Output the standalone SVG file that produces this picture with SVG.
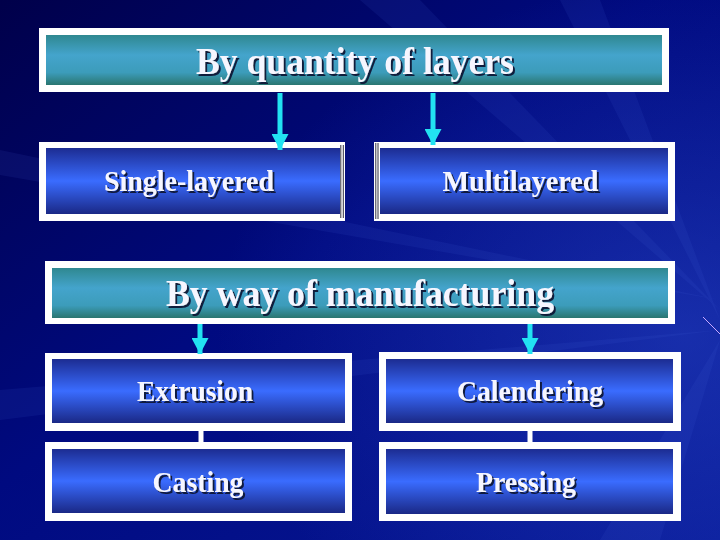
<svg xmlns="http://www.w3.org/2000/svg" width="720" height="540" viewBox="0 0 720 540">
  <defs>
    <linearGradient id="bg" x1="0" y1="0" x2="1" y2="1">
      <stop offset="0" stop-color="#00004a"/>
      <stop offset="0.45" stop-color="#000a80"/>
      <stop offset="1" stop-color="#081a98"/>
    </linearGradient>
    <radialGradient id="glow" cx="0.95" cy="0.62" r="0.65">
      <stop offset="0" stop-color="#2a48c8" stop-opacity="0.5"/>
      <stop offset="1" stop-color="#2a48c8" stop-opacity="0"/>
    </radialGradient>
    <linearGradient id="teal" x1="0" y1="0" x2="0" y2="1">
      <stop offset="0" stop-color="#2f8890"/>
      <stop offset="0.4" stop-color="#44a4cc"/>
      <stop offset="0.75" stop-color="#3c9cba"/>
      <stop offset="1" stop-color="#2a7670"/>
    </linearGradient>
    <linearGradient id="blue" x1="0" y1="0" x2="0" y2="1">
      <stop offset="0" stop-color="#1c2c92"/>
      <stop offset="0.5" stop-color="#3a6cff"/>
      <stop offset="1" stop-color="#1a2886"/>
    </linearGradient>
    <filter id="shadow" x="-5%" y="-20%" width="115%" height="150%">
      <feDropShadow dx="2" dy="2" stdDeviation="0.4" flood-color="#0c1238" flood-opacity="0.95"/>
    </filter>
    <marker id="ah" markerUnits="userSpaceOnUse" viewBox="0 0 16 17" markerWidth="16" markerHeight="17" refX="16" refY="8.5" orient="auto">
      <path d="M0,0 L16,8.5 L0,17 Z" fill="#22e2f2"/>
    </marker>
  </defs>
  <style>
    .frame { fill: #ffffff; }
    .hdr { fill: url(#teal); }
    .box { fill: url(#blue); }
    .edge { stroke: #1a1a2a; stroke-width: 0.9; fill: none; }
    text { font-family: "Liberation Serif", "Times New Roman", serif; font-weight: bold; fill: #f6f6ff; text-anchor: middle; filter: url(#shadow); }
    .big { font-size: 38px; }
    .mid { font-size: 30px; }
    .arrow { stroke: #22e2f2; stroke-width: 5; fill: none; marker-end: url(#ah); }
    .link { stroke: #ffffff; stroke-width: 5; fill: none; }
  </style>

  <!-- background -->
  <rect x="0" y="0" width="720" height="540" fill="url(#bg)"/>
  <rect x="0" y="0" width="720" height="540" fill="url(#glow)"/>
  <g fill="#4a6ae0" opacity="0.1">
    <polygon points="720,300 0,150 0,175"/>
    <polygon points="720,330 0,390 0,420"/>
    <polygon points="720,310 360,0 420,0"/>
    <polygon points="720,340 600,540 660,540"/>
    <polygon points="720,320 560,0 600,0"/>
  </g>
  <line x1="703" y1="317" x2="720" y2="334" stroke="#c8a8ff" stroke-width="1"/>

  <g id="node-quantity">
    <rect class="frame" x="39" y="28" width="630" height="64"/>
    <rect class="hdr" x="46" y="35" width="616" height="50"/>
    <text class="big" x="355" y="74" textLength="318" lengthAdjust="spacingAndGlyphs">By quantity of layers</text>
  </g>

  <g id="node-single">
    <rect class="frame" x="39" y="142" width="306" height="79"/>
    <rect class="box" x="46" y="148" width="294" height="66"/>
    <line class="edge" x1="340.8" y1="145" x2="340.8" y2="218"/>
    <line class="edge" x1="343.3" y1="145" x2="343.3" y2="218"/>
    <text class="mid" x="189" y="191" textLength="170" lengthAdjust="spacingAndGlyphs">Single-layered</text>
  </g>

  <g id="node-multi">
    <rect class="frame" x="374" y="142" width="301" height="79"/>
    <rect class="box" x="380" y="148" width="288" height="66"/>
    <line class="edge" x1="375.8" y1="143" x2="375.8" y2="219"/>
    <line class="edge" x1="378" y1="143" x2="378" y2="219"/>
    <text class="mid" x="520.5" y="191" textLength="156" lengthAdjust="spacingAndGlyphs">Multilayered</text>
  </g>

  <g id="node-manufacturing">
    <rect class="frame" x="45" y="261" width="630" height="63"/>
    <rect class="hdr" x="52" y="268" width="616" height="50"/>
    <text class="big" x="360" y="306" textLength="388" lengthAdjust="spacingAndGlyphs">By way of manufacturing</text>
  </g>

  <g id="node-extrusion">
    <rect class="frame" x="45" y="353" width="307" height="78"/>
    <rect class="box" x="52" y="359" width="293" height="64"/>
    <text class="mid" x="195" y="401" textLength="116" lengthAdjust="spacingAndGlyphs">Extrusion</text>
  </g>

  <g id="node-casting">
    <rect class="frame" x="45" y="442" width="307" height="79"/>
    <rect class="box" x="52" y="449" width="293" height="64"/>
    <text class="mid" x="198" y="492" textLength="91" lengthAdjust="spacingAndGlyphs">Casting</text>
  </g>

  <g id="node-calendering">
    <rect class="frame" x="379" y="352" width="302" height="79"/>
    <rect class="box" x="386" y="359" width="287" height="64"/>
    <text class="mid" x="530" y="401" textLength="146" lengthAdjust="spacingAndGlyphs">Calendering</text>
  </g>

  <g id="node-pressing">
    <rect class="frame" x="379" y="442" width="302" height="79"/>
    <rect class="box" x="386" y="449" width="287" height="65"/>
    <text class="mid" x="526" y="492" textLength="100" lengthAdjust="spacingAndGlyphs">Pressing</text>
  </g>

  <g id="connectors">
    <line class="arrow" x1="280" y1="93" x2="280" y2="150"/>
    <line class="arrow" x1="433" y1="93" x2="433" y2="145"/>
    <line class="arrow" x1="200" y1="324" x2="200" y2="354"/>
    <line class="arrow" x1="530" y1="324" x2="530" y2="354"/>
    <line class="link" x1="201" y1="431" x2="201" y2="442"/>
    <line class="link" x1="530" y1="431" x2="530" y2="442"/>
  </g>
</svg>
